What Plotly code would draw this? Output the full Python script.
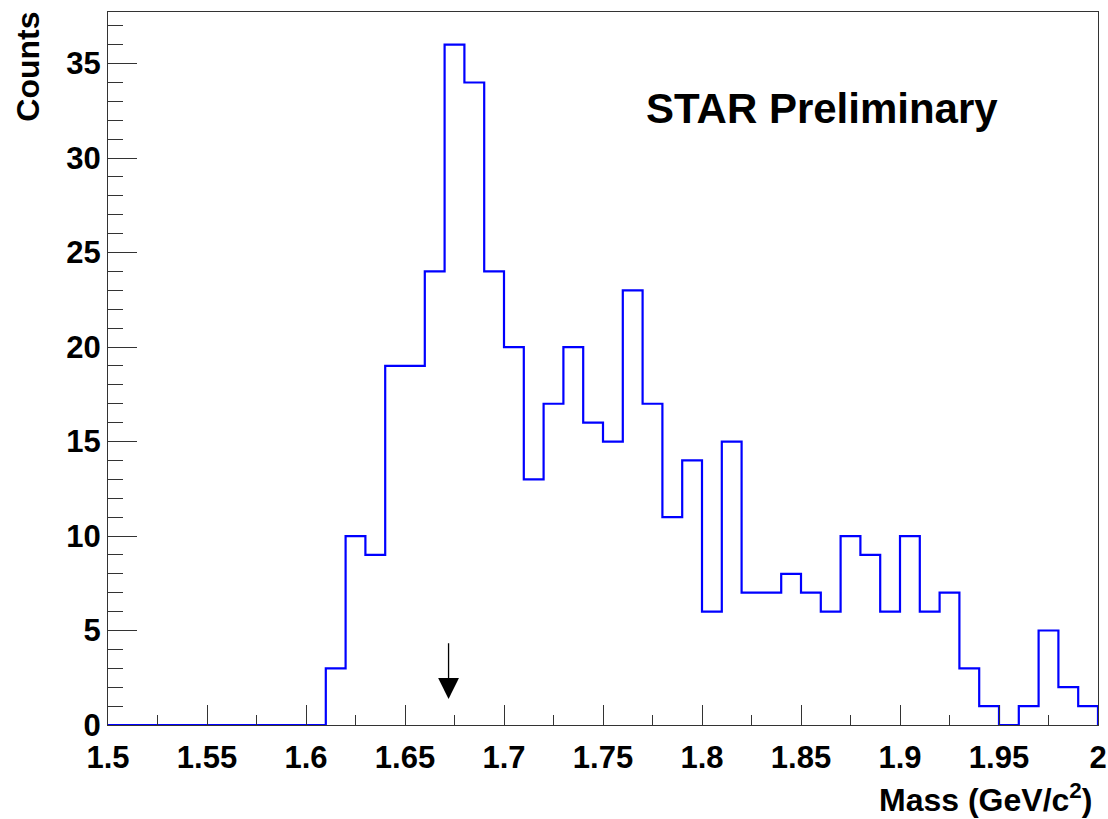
import plotly.graph_objects as go

# Histogram data: bin edges 1.50..2.00 step 0.01, counts per bin
bin_low = [round(1.50 + 0.01 * i, 2) for i in range(50)]
counts = [0, 0, 0, 0, 0, 0, 0, 0, 0, 0, 0,
          3, 10, 9, 19, 19, 24, 36, 34, 24, 20,
          13, 17, 20, 16, 15, 23, 17, 11, 14, 6,
          15, 7, 7, 8, 7, 6, 10, 9, 6, 10,
          6, 7, 3, 1, 0, 1, 5, 2, 1]
x_max = 2.00
omega_mass = 1.672
arrow_tip = 1.38
arrow_tail = 4.4

FONT = "Liberation Sans, Arial, Helvetica, sans-serif"

xs = bin_low + [x_max, x_max]
ys = counts + [counts[-1], 0]

fig = go.Figure()
fig.add_trace(go.Scatter(x=xs, y=ys, mode="lines", line=dict(shape="hv", color="#0000ff", width=2.2),
                         showlegend=False, hoverinfo="skip"))

axis_common = dict(showline=True, linecolor="#333333", linewidth=1.2, mirror=True,
                   showgrid=False, zeroline=False, ticks="inside", tickcolor="#333333",
                   tickwidth=1.2, automargin=False,
                   tickfont=dict(family=FONT, size=31, color="black", weight="bold"))

fig.update_xaxes(range=[1.5, 2.0], dtick=0.05, tick0=1.5, ticklen=20, ticklabelstandoff=5,
                 minor=dict(dtick=0.025, ticklen=10, ticks="inside", tickcolor="#333333", tickwidth=1.2),
                 **axis_common)
fig.update_yaxes(range=[0, 37.73], dtick=5, tick0=0, ticklen=29,
                 minor=dict(dtick=1, ticklen=15, ticks="inside", tickcolor="#333333", tickwidth=1.2),
                 **axis_common)

fig.add_annotation(x=omega_mass, y=arrow_tip, ax=omega_mass, ay=arrow_tail, axref="x", ayref="y",
                   xref="x", yref="y", text="", showarrow=True, arrowhead=2, arrowsize=3.2,
                   arrowwidth=1.3, arrowcolor="black", standoff=0)

fig.add_annotation(text="STAR Preliminary", x=(822 - 108) / 990, y=(725 - 108) / 713,
                   xref="paper", yref="paper", xanchor="center", yanchor="middle",
                   showarrow=False, font=dict(family=FONT, size=42, color="black", weight="bold"))

fig.add_annotation(text="Counts", textangle=-90, x=-0.081, y=1.003, xref="paper", yref="paper",
                   xanchor="center", yanchor="top", showarrow=False,
                   font=dict(family=FONT, size=32, color="black", weight="bold"))
fig.add_annotation(text="Mass (GeV/c<sup>2</sup>)", x=0.996, y=-0.102, xref="paper", yref="paper",
                   xanchor="right", yanchor="middle", showarrow=False,
                   font=dict(family=FONT, size=32, color="black", weight="bold"))

fig.update_layout(width=1108, height=819, margin=dict(l=108, r=10, t=12, b=94),
                  paper_bgcolor="white", plot_bgcolor="white")

fig.write_html("out.html")
